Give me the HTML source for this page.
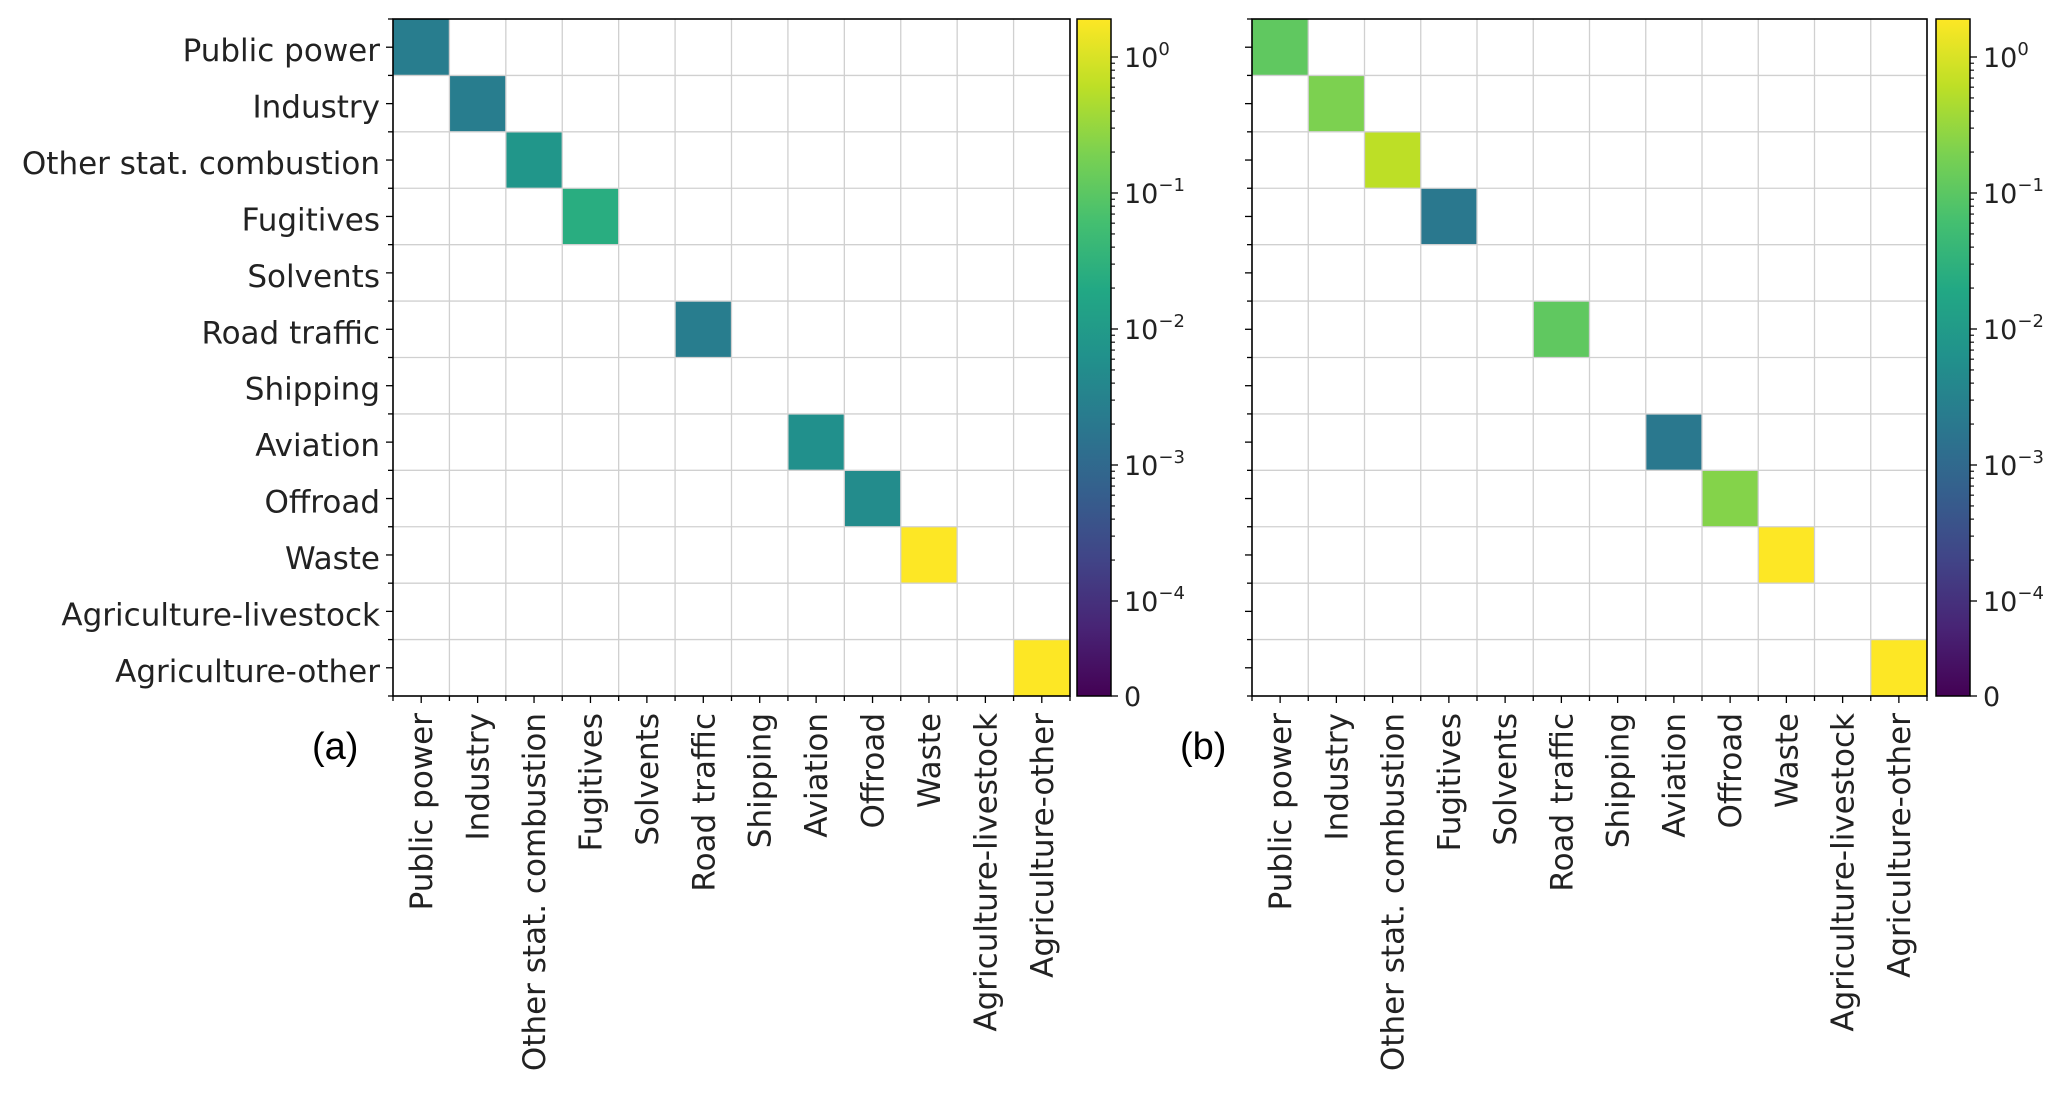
<!DOCTYPE html>
<html><head><meta charset="utf-8"><style>
html,body{margin:0;padding:0;background:#fff;width:2067px;height:1093px;overflow:hidden}
svg{display:block}
</style></head><body>
<svg id="fig" width="2067" height="1093" xmlns="http://www.w3.org/2000/svg">
<defs>
<linearGradient id="vir" x1="0" y1="1" x2="0" y2="0">
<stop offset="0" stop-color="#440154"/><stop offset="0.1" stop-color="#482475"/><stop offset="0.2" stop-color="#414487"/><stop offset="0.3" stop-color="#355f8d"/><stop offset="0.4" stop-color="#2a788e"/><stop offset="0.5" stop-color="#21918c"/><stop offset="0.6" stop-color="#22a884"/><stop offset="0.7" stop-color="#44bf70"/><stop offset="0.8" stop-color="#7ad151"/><stop offset="0.9" stop-color="#bddf26"/><stop offset="1" stop-color="#fde725"/>
</linearGradient>
</defs>
</svg>
<script>
const categories = ["Public power","Industry","Other stat. combustion","Fugitives","Solvents","Road traffic","Shipping","Aviation","Offroad","Waste","Agriculture-livestock","Agriculture-other"];
const valuesA = [2.5e-3,2.5e-3,8e-3,0.025,null,2.5e-3,null,6e-3,5e-3,1.9,null,1.9];
const valuesB = [0.11,0.2,0.6,2e-3,null,0.11,null,2e-3,0.23,1.9,null,1.9];
const cbTickLabels = ["10","10","10","10","10","0"];
const cbTickExps = ["0","−1","−2","−3","−4",""];
const cbTickValues = [1,0.1,0.01,0.001,0.0001,0];

const NS="http://www.w3.org/2000/svg";
const svg=document.getElementById('fig');
function mk(tag,attrs,parent){const e=document.createElementNS(NS,tag);for(const k in attrs)e.setAttribute(k,attrs[k]);(parent||svg).appendChild(e);return e;}
const VIR=["#440154","#482475","#414487","#355f8d","#2a788e","#21918c","#22a884","#44bf70","#7ad151","#bddf26","#fde725"];
function hex(c){return [1,3,5].map(i=>parseInt(c.substr(i,2),16));}
function viridis(t){t=Math.max(0,Math.min(1,t));const p=t*10,i=Math.min(9,Math.floor(p)),f=p-i;const a=hex(VIR[i]),b=hex(VIR[i+1]);return 'rgb('+a.map((v,k)=>Math.round(v+(b[k]-v)*f)).join(',')+')';}
const CB_TOP=19,CB_BOT=696,DEC=136,Y_M4=601;
function cbY(v){if(v<=0)return CB_BOT;if(v<1e-4)return CB_BOT-(v/1e-4)*(CB_BOT-Y_M4);return Y_M4-(Math.log10(v)+4)*DEC;}
function colorOf(v){return viridis((CB_BOT-cbY(v))/(CB_BOT-CB_TOP));}

function panel(x0,x1,y0,y1,vals,name,showLabels,cbx,letter,lx){
  const g=mk('g',{});
  
  
  const n=categories.length,cw=(x1-x0)/n,ch=(y1-y0)/n;
  const xs=i=>x0+i*cw, ys=i=>y0+i*ch;
  vals.forEach((v,i)=>{if(v==null)return;
    const r=mk('rect',{x:xs(i),y:ys(i),width:cw,height:ch,fill:colorOf(v)},g);
    
    });
  for(let i=1;i<n;i++){
    mk('line',{x1:xs(i),x2:xs(i),y1:y0,y2:y1,stroke:'#d0d0d0','stroke-width':1.3},g);
    mk('line',{x1:x0,x2:x1,y1:ys(i),y2:ys(i),stroke:'#d0d0d0','stroke-width':1.3},g);
  }
  mk('rect',{x:x0,y:y0,width:x1-x0,height:y1-y0,fill:'none',stroke:'#000','stroke-width':1.6},g);
  for(let i=0;i<=2*n;i++){
    const tx=x0+i*cw/2, ty=y0+i*ch/2, len=(i%2)?7:5;
    mk('line',{x1:tx,x2:tx,y1:y1,y2:y1+len,stroke:'#000','stroke-width':1.3},g);
    mk('line',{x1:x0,x2:x0-len,y1:ty,y2:ty,stroke:'#000','stroke-width':1.3},g);
  }
  categories.forEach((c,i)=>{
    const cx=xs(i)+cw/2, cy=ys(i)+ch/2;
    if(showLabels){const t=mk('text',{x:x0-13,y:cy+14,'text-anchor':'end','font-size':31,'font-family':'DejaVu Sans, sans-serif',fill:'#222'},g);t.textContent=c;
      }
    const t2=mk('text',{x:0,y:0,'text-anchor':'end','font-size':31,'font-family':'DejaVu Sans, sans-serif',fill:'#222',transform:`translate(${cx+11},${y1+17}) rotate(-90)`},g);
    t2.textContent=c;
    
    
  });
  const cb=mk('g',{},g);
  
  
  const cbw=34;
  mk('rect',{x:cbx,y:CB_TOP,width:cbw,height:CB_BOT-CB_TOP,fill:'url(#vir)',stroke:'#000','stroke-width':1.5},cb);
  cbTickValues.forEach((v,k)=>{const y=cbY(v);
    mk('line',{x1:cbx+cbw,x2:cbx+cbw+7,y1:y,y2:y,stroke:'#000','stroke-width':1.3},cb);
    const t=mk('text',{x:cbx+cbw+13,y:y+10,'font-size':27,'font-family':'DejaVu Sans, sans-serif',fill:'#222'},cb);
    t.textContent=cbTickLabels[k];
    if(cbTickExps[k]){const s=mk('tspan',{dy:-12,'font-size':18},t);s.textContent=cbTickExps[k];}
    
    if(v>=1e-4&&v<=1){for(let m=2;m<=9;m++){const yy=cbY(v*m);if(yy<CB_TOP)continue;
      mk('line',{x1:cbx+cbw,x2:cbx+cbw+4,y1:yy,y2:yy,stroke:'#000','stroke-width':1.1},cb);}}
  });
  const L=mk('text',{x:lx,y:759,'font-size':38,'font-family':'Liberation Sans, sans-serif',fill:'#000'});
  L.textContent=letter;
  
  
}
panel(393,1070,19,696,valuesA,'heatmap-a',true,1077,'(a)',312);
panel(1252,1927,19,696,valuesB,'heatmap-b',false,1936,'(b)',1180);
</script>
</body></html>
